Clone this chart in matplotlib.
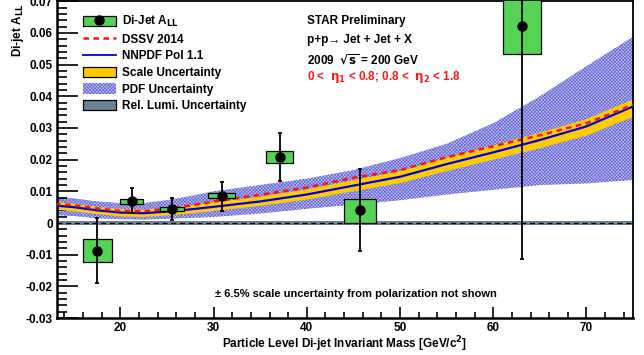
import matplotlib
matplotlib.use("Agg")
import matplotlib.pyplot as plt
from matplotlib.patches import Patch, Rectangle
from matplotlib.lines import Line2D
import numpy as np

plt.rcParams['font.family'] = ['Liberation Sans', 'DejaVu Sans']
plt.rcParams['font.weight'] = 'bold'
plt.rcParams['hatch.linewidth'] = 0.5

# ---- data ----
mass = [17.5, 21.2, 25.5, 30.9, 37.1, 45.7, 63.1]
all_vals = [-0.0087, 0.0070, 0.0045, 0.0085, 0.0208, 0.0041, 0.0622]
stat_err = [0.0103, 0.0040, 0.0035, 0.0046, 0.0075, 0.0130, 0.0736]
sys_xhalf = [1.55, 1.25, 1.3, 1.45, 1.45, 1.7, 2.0]
sys_center = [-0.0086, 0.0068, 0.0045, 0.0086, 0.0208, 0.0038, 0.0622]
sys_yhalf = [0.0036, 0.0007, 0.0006, 0.0008, 0.0020, 0.0037, 0.0088]

theory_m = [13, 15, 17.5, 20, 22.5, 25, 27.5, 30, 35, 40, 45, 50, 55, 60, 65, 70, 75]
nnpdf = [0.0055, 0.0050, 0.0040, 0.0033, 0.0031, 0.0036, 0.0043, 0.0051, 0.0068, 0.0090,
         0.0118, 0.0146, 0.0186, 0.0223, 0.0262, 0.0305, 0.0368]
dssv = [0.0060, 0.0056, 0.0046, 0.0038, 0.0037, 0.0045, 0.0055, 0.0068, 0.0089, 0.0112,
        0.0143, 0.0167, 0.0208, 0.0242, 0.0277, 0.0315, 0.0373]
scale_lo = [0.0042, 0.0037, 0.0028, 0.0021, 0.0019, 0.0024, 0.0030, 0.0038, 0.0054, 0.0074,
            0.0100, 0.0126, 0.0164, 0.0200, 0.0236, 0.0276, 0.0335]
scale_hi = [0.0066, 0.0061, 0.0051, 0.0044, 0.0042, 0.0048, 0.0056, 0.0065, 0.0083, 0.0106,
            0.0135, 0.0164, 0.0206, 0.0245, 0.0285, 0.0328, 0.0390]
pdf_lo = [0.0025, 0.0022, 0.0015, 0.0012, 0.0011, 0.0013, 0.0016, 0.0019, 0.0030, 0.0045,
          0.0058, 0.0072, 0.0090, 0.0105, 0.0120, 0.0125, 0.0136]
pdf_hi = [0.0082, 0.0078, 0.0068, 0.0063, 0.0063, 0.0072, 0.0085, 0.0100, 0.0120, 0.0140,
          0.0167, 0.0205, 0.0250, 0.0315, 0.0400, 0.0495, 0.0588]
lumi_half = 0.00065

fig = plt.figure(figsize=(6.44, 3.55), dpi=100)
ax = fig.add_axes([0.0885, 0.1042, 0.8945, 0.8921])

green = '#55d355'
yellow = '#ffcc00'
pdf_face = '#c2c2f2'
pdf_edge = '#6464dc'
slate = '#6a8298'

# PDF band
ax.fill_between(theory_m, pdf_lo, pdf_hi, facecolor=pdf_face, edgecolor=pdf_edge,
                hatch='xxxxxxxxxx', linewidth=0, zorder=1)
# scale band
ax.fill_between(theory_m, scale_lo, scale_hi, facecolor=yellow, linewidth=0, zorder=2)
# curves
ax.plot(theory_m, nnpdf, color='#0000e0', lw=1.6, zorder=3)
ax.plot(theory_m, dssv, color='#ff1010', lw=1.8, ls=(0, (2.2, 1.8)), zorder=4)

# rel lumi band
ax.axhspan(-lumi_half, lumi_half, color=slate, zorder=2.5, lw=0)
ax.axhline(0, color='black', lw=0.9, ls=(0, (4, 3)), zorder=2.6)

# systematic boxes
for m, c, xh, yh in zip(mass, sys_center, sys_xhalf, sys_yhalf):
    ax.add_patch(Rectangle((m - xh, c - yh), 2 * xh, 2 * yh, facecolor=green,
                           edgecolor='black', lw=0.9, zorder=5))
ax.errorbar(mass, all_vals, yerr=stat_err, fmt='o', color='black', ms=6.5,
            elinewidth=1.3, capsize=1.5, capthick=1.3, zorder=6)

ax.set_xlim(13.2, 75)
ax.set_ylim(-0.03, 0.07)

ax.set_xticks([20, 30, 40, 50, 60, 70])
ax.set_xticks(np.arange(14, 75, 2), minor=True)
ax.set_yticks([-0.03, -0.02, -0.01, 0, 0.01, 0.02, 0.03, 0.04, 0.05, 0.06, 0.07])
ax.set_yticklabels(['-0.03', '-0.02', '-0.01', '0', '0.01', '0.02', '0.03', '0.04',
                    '0.05', '0.06', '0.07'])
ax.set_yticks(np.arange(-0.03, 0.0701, 0.002), minor=True)
ax.tick_params(axis='both', which='both', direction='in', labelsize=8.5, width=1.2)
ax.tick_params(axis='x', which='major', length=8, pad=3)
ax.tick_params(axis='x', which='minor', length=4)
ax.tick_params(axis='y', which='major', length=15, pad=3)
ax.tick_params(axis='y', which='minor', length=7.5)
ax.tick_params(top=False, right=False)
for lab in ax.get_xticklabels() + ax.get_yticklabels():
    lab.set_fontweight('bold')
for s in ax.spines.values():
    s.set_linewidth(1.3)
ax.spines['bottom'].set_linewidth(1.8)
ax.spines['left'].set_linewidth(1.8)

fig.text(345 / 644, 1 - 344 / 355, 'Particle Level Di-jet Invariant Mass [GeV/c$^{\\mathbf{2}}$]',
         ha='center', va='center', fontsize=8.5, fontweight='bold')
fig.text(18 / 644, 1 - 57 / 355, 'Di-jet A$_{\\mathbf{LL}}$', rotation=90, ha='center',
         va='bottom', fontsize=8.5, fontweight='bold')

# annotations
ax.text(40.05, 0.0639, 'STAR Preliminary', fontsize=8.5, fontweight='bold', va='center')
ax.text(40.05, 0.0578, 'p+p\u2192 Jet + Jet + X', fontsize=8.5, fontweight='bold', va='center')
ax.text(40.05, 0.0513, '2009  $\\sqrt{\\mathbf{s}}$ = 200 GeV', fontsize=8.5, fontweight='bold',
        va='center')
ax.text(40.05, 0.0461, '0 <  $\\mathbf{\\eta_1}$ < 0.8; 0.8 <  $\\mathbf{\\eta_2}$ < 1.8',
        fontsize=8.5, fontweight='bold', va='center', color='#ff1a1a')
ax.text(45.3, -0.0224, '\u00b1 6.5% scale uncertainty from polarization not shown',
        fontsize=8, fontweight='bold', ha='center', va='center')

# legend
h_data = (Patch(facecolor=green, edgecolor='black', lw=0.9),
          Line2D([], [], marker='o', color='black', ls='none', ms=6.5))
h_dssv = Line2D([], [], color='#ff1010', lw=1.8, ls=(0, (2.2, 1.8)))
h_nn = Line2D([], [], color='#0000e0', lw=1.3)
h_scale = Patch(facecolor=yellow, edgecolor='black', lw=0.9)
h_pdf = Patch(facecolor=pdf_face, edgecolor=pdf_edge, hatch='xxxxxxxxxx', lw=0)
h_lumi = Patch(facecolor=slate, edgecolor='black', lw=0.9)
leg = ax.legend([h_data, h_dssv, h_nn, h_scale, h_pdf, h_lumi],
                ['Di-Jet A$_{\\mathbf{LL}}$', 'DSSV 2014', 'NNPDF Pol 1.1', 'Scale Uncertainty',
                 'PDF Uncertainty', 'Rel. Lumi. Uncertainty'],
                loc='upper left', bbox_to_anchor=(0.045, 0.960), frameon=False,
                fontsize=8.5, handlelength=2.8, handleheight=0.95, labelspacing=0.38,
                handletextpad=0.55, borderpad=0, borderaxespad=0)
for t in leg.get_texts():
    t.set_fontweight('bold')

fig.savefig('out.png', dpi=100)
